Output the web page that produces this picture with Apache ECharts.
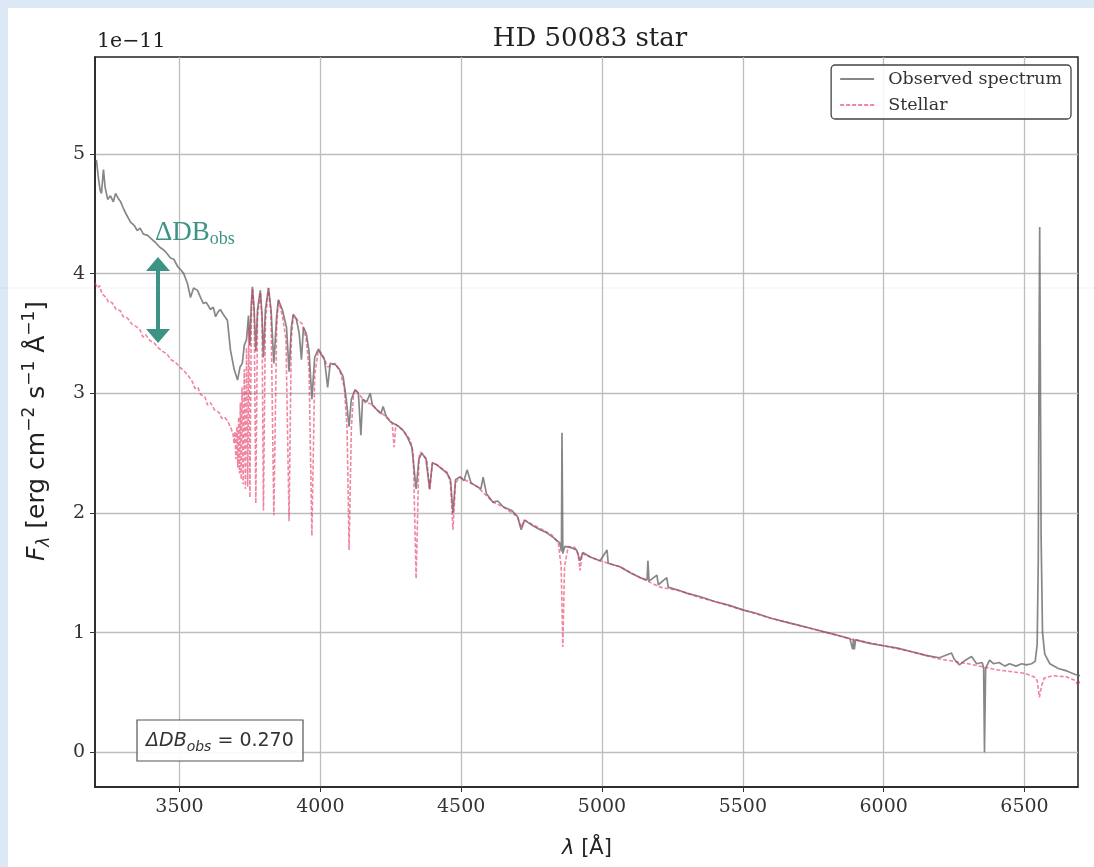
<!DOCTYPE html>
<html><head><meta charset="utf-8">
<script src="https://cdn.jsdelivr.net/npm/echarts@6.0.0/dist/echarts.min.js"></script>
<style>
html,body{margin:0;padding:0;background:#dce8f5;width:1094px;height:867px;overflow:hidden}
#panel{position:absolute;left:8px;top:8px;width:1086px;height:859px;background:#fff}
#chart{position:absolute;left:0;top:0;width:1094px;height:867px}
</style></head><body>
<div id="panel"></div><div id="chart"></div>
<script>
// ---- data (flux in units of 1e-11 erg cm^-2 s^-1 Å^-1) ----
const obsWave = [3205,3212,3218,3223,3230,3236,3245,3255,3265,3273,3282,3291,3300,3310,3326,3340,3350,3360,3372,3387,3400,3415,3430,3443,3455,3468,3480,3493,3505,3515,3528,3539,3550,3564,3575,3585,3595,3610,3620,3628,3637,3645,3655,3670,3681,3694,3706,3715,3723,3730,3738,3745,3750,3755,3759,3765,3771,3777,3787,3793,3798,3805,3816,3825,3835,3845,3851,3865,3880,3889,3897,3904,3915,3925,3933,3940,3950,3960,3970,3980,3993,4005,4015,4026,4035,4053,4068,4081,4092,4102,4110,4124,4135,4144,4150,4165,4177,4185,4202,4215,4223,4235,4250,4267,4280,4294,4310,4325,4340,4350,4360,4375,4388,4398,4415,4430,4450,4462,4471,4480,4496,4510,4521,4535,4557,4570,4578,4590,4613,4630,4650,4680,4700,4713,4725,4750,4780,4800,4830,4850,4856,4858,4861,4868,4890,4910,4922,4932,4960,4993,5018,5022,5064,5100,5135,5160,5163,5167,5195,5200,5230,5235,5277,5300,5350,5400,5450,5500,5550,5600,5650,5700,5750,5800,5850,5880,5890,5893,5896,5900,5950,6000,6050,6100,6150,6198,6241,6250,6269,6290,6312,6330,6350,6355,6358,6362,6376,6390,6410,6430,6447,6470,6490,6507,6525,6538,6545,6549,6552,6554,6556,6559,6564,6572,6590,6620,6650,6680,6700];
const obsFlux = [4.95,4.80,4.70,4.67,4.87,4.72,4.62,4.65,4.60,4.67,4.63,4.60,4.55,4.50,4.43,4.40,4.36,4.38,4.33,4.32,4.29,4.26,4.22,4.20,4.17,4.13,4.12,4.06,4.03,4.00,3.92,3.80,3.88,3.86,3.80,3.75,3.76,3.70,3.72,3.64,3.68,3.70,3.66,3.61,3.36,3.20,3.11,3.22,3.25,3.40,3.45,3.65,3.40,3.75,3.89,3.70,3.35,3.70,3.86,3.65,3.30,3.70,3.88,3.70,3.25,3.65,3.78,3.70,3.55,3.18,3.55,3.66,3.62,3.50,3.28,3.55,3.50,3.35,2.95,3.30,3.37,3.32,3.28,3.05,3.25,3.24,3.20,3.14,2.95,2.72,2.95,3.03,3.00,2.65,2.95,2.93,3.00,2.90,2.86,2.83,2.89,2.80,2.76,2.74,2.72,2.69,2.63,2.55,2.20,2.45,2.50,2.45,2.20,2.42,2.40,2.37,2.33,2.28,2.00,2.28,2.30,2.27,2.36,2.25,2.22,2.20,2.30,2.16,2.09,2.10,2.05,2.02,1.97,1.86,1.94,1.90,1.86,1.84,1.79,1.75,1.68,2.67,1.66,1.72,1.71,1.69,1.60,1.67,1.63,1.60,1.69,1.58,1.55,1.50,1.46,1.44,1.60,1.43,1.48,1.40,1.46,1.38,1.35,1.33,1.30,1.26,1.23,1.19,1.16,1.12,1.09,1.06,1.03,1.00,0.97,0.95,0.86,0.95,0.86,0.94,0.91,0.89,0.87,0.84,0.81,0.79,0.83,0.78,0.73,0.77,0.80,0.74,0.75,0.70,0.00,0.70,0.77,0.74,0.75,0.72,0.74,0.72,0.74,0.73,0.74,0.76,0.90,1.60,3.50,4.39,3.40,1.80,1.00,0.82,0.74,0.70,0.68,0.65,0.64];

const stelWave = [3200,3210,3216,3225,3240,3248,3260,3275,3290,3300,3315,3330,3345,3360,3370,3380,3395,3410,3425,3440,3455,3470,3485,3500,3515,3530,3545,3555,3565,3575,3590,3600,3610,3625,3640,3650,3660,3670,3681,3690,3694,3697,3700,3704,3707,3710,3713,3716,3719,3722,3726,3730,3734,3738,3742,3746,3750,3755,3759,3765,3771,3777,3787,3793,3798,3805,3816,3825,3835,3845,3851,3865,3878,3889,3897,3904,3915,3936,3950,3960,3970,3980,3993,4010,4026,4053,4070,4085,4095,4102,4110,4118,4124,4142,4160,4184,4202,4237,4255,4262,4268,4294,4319,4330,4340,4350,4355,4378,4388,4398,4415,4450,4462,4471,4480,4496,4557,4613,4650,4700,4713,4725,4780,4820,4845,4855,4861,4867,4880,4904,4915,4922,4930,4993,5064,5135,5206,5277,5350,5400,5500,5600,5700,5800,5890,5900,6000,6100,6198,6300,6400,6500,6535,6545,6553,6560,6570,6600,6650,6680,6690,6700];
const stelFlux = [3.92,3.88,3.90,3.83,3.80,3.76,3.76,3.70,3.69,3.64,3.63,3.58,3.56,3.53,3.47,3.49,3.44,3.42,3.38,3.35,3.33,3.28,3.26,3.22,3.19,3.15,3.10,3.04,3.05,2.99,2.97,2.90,2.92,2.86,2.84,2.79,2.80,2.77,2.72,2.66,2.58,2.68,2.45,2.72,2.38,2.80,2.33,2.92,2.28,3.05,2.24,3.20,2.20,3.38,2.22,3.55,2.13,3.65,3.88,3.70,2.08,3.65,3.84,3.62,2.02,3.60,3.88,3.65,1.98,3.55,3.78,3.65,3.45,1.93,3.45,3.65,3.62,3.58,3.45,3.20,1.81,3.15,3.36,3.31,3.22,3.25,3.18,3.05,2.70,1.69,2.70,3.00,3.03,2.98,2.92,2.91,2.86,2.80,2.75,2.55,2.74,2.69,2.61,2.50,1.45,2.45,2.51,2.45,2.19,2.42,2.40,2.34,2.25,1.86,2.25,2.30,2.22,2.09,2.05,1.97,1.88,1.94,1.87,1.82,1.75,1.55,0.88,1.55,1.72,1.71,1.66,1.52,1.66,1.60,1.55,1.46,1.38,1.35,1.29,1.26,1.19,1.12,1.06,1.00,0.94,0.94,0.89,0.84,0.78,0.74,0.69,0.66,0.63,0.60,0.46,0.55,0.62,0.64,0.63,0.60,0.56,0.60];

const xTicks = [3500,4000,4500,5000,5500,6000,6500];
const yTicks = [0,1,2,3,4,5];
const seriesNames = ['Observed spectrum','Stellar'];
const titleText = 'HD 50083 star';
const deltaDB = 0.270;

const zip = (a,b) => a.map((v,i)=>[v,b[i]]);
const serif = 'DejaVu Serif';
const sans = 'DejaVu Sans';
const grayC = 'rgba(105,105,105,0.8)';
const pinkC = 'rgba(230,45,90,0.58)';

const chart = echarts.init(document.getElementById('chart'), null, {renderer:'canvas'});
const option = {
  animation:false,
  backgroundColor:'transparent',
  title:{text:titleText, left:585, top:21, textAlign:'center',
    textStyle:{fontFamily:serif, fontSize:26, fontWeight:'normal', color:'#222'}},
  grid:{left:95, top:57, width:983, height:730, show:true, borderColor:'#222', borderWidth:1.5, backgroundColor:'transparent'},
  legend:{orient:'vertical', right:23, top:65, data:seriesNames,
    backgroundColor:'rgba(255,255,255,0.85)', borderColor:'#444', borderWidth:1.3, borderRadius:4,
    padding:[5,9,5,8], itemWidth:34, itemHeight:12, itemGap:8,
    itemStyle:{opacity:0},
    textStyle:{fontFamily:serif, fontSize:17.5, color:'#333', padding:[0,0,0,9]}},
  xAxis:{type:'value', min:3200, max:6690,
    axisLine:{show:true, onZero:false, lineStyle:{color:'#222', width:1.5}},
    axisTick:{show:true, length:5, lineStyle:{color:'#333'}, customValues:xTicks},
    axisLabel:{customValues:xTicks, margin:11, fontFamily:serif, fontSize:19, color:'#333', formatter:v=>String(v)},
    splitLine:{show:true, lineStyle:{color:'#bdbdbd', width:1.3}}},
  yAxis:{type:'value', min:-0.29, max:5.81,
    axisLine:{show:true, onZero:false, lineStyle:{color:'#222', width:1.5}},
    axisTick:{show:true, length:5, lineStyle:{color:'#333'}, customValues:yTicks},
    axisLabel:{customValues:yTicks, margin:10, fontFamily:serif, fontSize:19, color:'#333', formatter:v=>String(v)},
    splitLine:{show:true, lineStyle:{color:'#bdbdbd', width:1.3}}},
  series:[
    {name:seriesNames[0], type:'line', data:zip(obsWave,obsFlux), symbol:'none', z:2,
      lineStyle:{color:grayC, width:1.7}, itemStyle:{color:grayC}},
    {name:seriesNames[1], type:'line', data:zip(stelWave,stelFlux), symbol:'none', z:3,
      lineStyle:{color:pinkC, width:1.6, type:[4,2]}, itemStyle:{color:pinkC}}
  ],
  graphic:[
    {type:'line', silent:true, z:-1, shape:{x1:0,y1:288,x2:1094,y2:288}, style:{stroke:'rgba(0,0,0,0.06)', lineWidth:1}},
    {type:'text', left:97, top:31, style:{text:'1e\u221211', font:'20.5px "DejaVu Serif"', fill:'#222'}},
    {type:'text', x:37, y:431, rotation:Math.PI/2,
      style:{text:'{i|F}{s|\u03bb} [erg cm{p|\u22122} s{p|\u22121} \u00c5{p|\u22121}]', align:'center', verticalAlign:'middle',
        font:'25px "DejaVu Sans"', fill:'#222',
        rich:{i:{fontFamily:sans, fontSize:25, fontStyle:'italic', lineHeight:32, verticalAlign:'middle'},
              s:{fontFamily:sans, fontSize:17, fontStyle:'italic', lineHeight:32, verticalAlign:'bottom'},
              p:{fontFamily:sans, fontSize:17, lineHeight:32, verticalAlign:'top'}}}},
    {type:'text', x:587, y:849,
      style:{text:'{i|\u03bb} [\u00c5]', align:'center', verticalAlign:'middle', font:'21px "DejaVu Sans"', fill:'#222',
        rich:{i:{fontFamily:sans, fontSize:21, fontStyle:'italic'}}}},
    {type:'rect', shape:{x:137,y:720,width:166,height:41}, style:{fill:'rgba(255,255,255,0.9)', stroke:'#555', lineWidth:1.2}, z:10},
    {type:'text', x:146, y:741, z:11,
      style:{text:'{i|\u0394DB}{s|obs}{n| = '+deltaDB.toFixed(3)+'}', verticalAlign:'middle', fill:'#333',
        rich:{i:{fontFamily:sans, fontSize:19, fontStyle:'italic', lineHeight:26, verticalAlign:'middle'},
              s:{fontFamily:sans, fontSize:14, fontStyle:'italic', lineHeight:26, verticalAlign:'bottom'},
              n:{fontFamily:sans, fontSize:19, lineHeight:26, verticalAlign:'middle'}}}},
    {type:'polygon', z:10, shape:{points:[[158,257],[170,271],[160,271],[160,329],[170,329],[158,343],[146,329],[156,329],[156,271],[146,271]]},
      style:{fill:'#3d9385'}},
    {type:'text', x:155, y:233, z:10,
      style:{text:'{a|\u0394DB}{b|obs}', verticalAlign:'middle', fill:'#3d9385',
        rich:{a:{fontFamily:'Liberation Serif', fontSize:27, color:'#3d9385', lineHeight:30, verticalAlign:'middle'},
              b:{fontFamily:'Liberation Serif', fontSize:18, color:'#3d9385', lineHeight:30, verticalAlign:'bottom'}}}}
  ]
};
chart.setOption(option);
</script></body></html>
